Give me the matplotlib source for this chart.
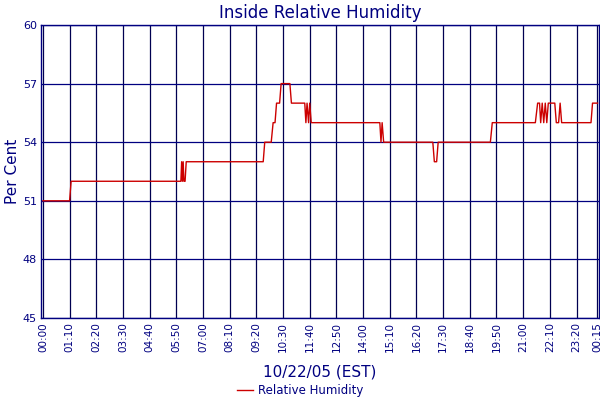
import matplotlib
matplotlib.use("Agg")
import matplotlib.pyplot as plt

# minutes since 00:00 on 10/22/05 and relative humidity (%)
times = [0, 70, 74, 362, 364, 366, 368, 370, 373, 376,
         578, 582, 599, 604, 609, 613, 621, 625, 648, 652,
         687, 690, 693, 697, 700, 704,
         884, 887, 890, 894, 897,
         1023, 1027, 1033, 1037,
         1174, 1179,
         1292, 1298, 1303, 1306, 1310, 1314, 1318, 1322, 1326, 1343, 1347, 1353, 1357, 1361, 1364,
         1438, 1442, 1455]
humidity = [51, 51, 52, 52, 53, 52, 53, 52, 52, 53,
            53, 54, 54, 55, 55, 56, 56, 57, 57, 56,
            56, 55, 56, 55, 56, 55,
            55, 54, 55, 54, 54,
            54, 53, 53, 54,
            54, 55,
            55, 56, 56, 55, 56, 55, 56, 55, 56, 56, 55, 55, 56, 55, 55,
            55, 56, 56]

tick_minutes = list(range(0, 1401, 70)) + [1455]
tick_labels = ["%02d:%02d" % ((m % 1440) // 60, m % 60) for m in tick_minutes]
y_ticks = [45, 48, 51, 54, 57, 60]

navy = "#000080"
red = "#CC0000"

fig = plt.figure(figsize=(6, 4), dpi=100)
ax = fig.add_axes([41/600, 1-318/400, (599-41)/600, (318-25)/400])

ax.plot(times, humidity, color=red, lw=1.0, label="Relative Humidity")

ax.set_xlim(-5, 1459)
ax.set_ylim(45, 60)
ax.set_xticks(tick_minutes)
ax.set_xticklabels(tick_labels, rotation=90, fontsize=7.5, color=navy)
ax.set_yticks(y_ticks)
ax.set_yticklabels([str(v) for v in y_ticks], fontsize=8, color=navy)
ax.tick_params(axis="both", length=0, pad=3)
ax.grid(True, axis="y", color=navy, lw=0.9)
ax.grid(True, axis="x", color="#000050", lw=0.9)
ax.set_axisbelow(True)
for s in ax.spines.values():
    s.set_color(navy)
    s.set_linewidth(1.0)

ax.set_title("Inside Relative Humidity", fontsize=12, color=navy, pad=5)
ax.set_ylabel("Per Cent", fontsize=11, color=navy, labelpad=2)
ax.set_xlabel("10/22/05 (EST)", fontsize=11, color=navy, labelpad=9)

fig.legend(loc="lower center", bbox_to_anchor=(0.5, -0.02), frameon=False,
           fontsize=8.5, labelcolor=navy, handlelength=1.4, handletextpad=0.4)

fig.savefig("out.png", dpi=100)
